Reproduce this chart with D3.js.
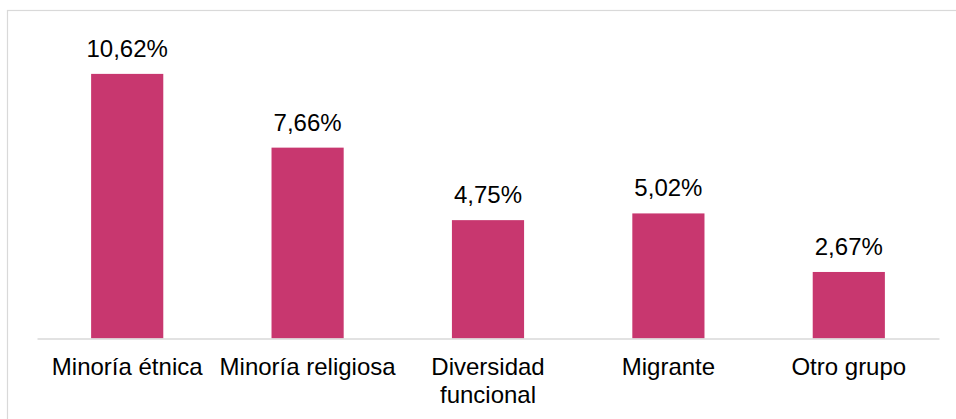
<!DOCTYPE html>
<html>
<head>
<meta charset="utf-8">
<script src="https://cdn.jsdelivr.net/npm/d3@7"></script>
<style>
  body { margin: 0; background: #fff; }
  svg { display: block; font-family: "Liberation Sans", Arial, sans-serif; }
</style>
</head>
<body>
<div id="chart"></div>
<script>
const categories = ["Minoría étnica", "Minoría religiosa", "Diversidad funcional", "Migrante", "Otro grupo"];
const values = [10.62, 7.66, 4.75, 5.02, 2.67];
const yDomain = [0, 12];

const width = 956, height = 419;

const svg = d3.select("#chart")
  .append("svg")
  .attr("width", width)
  .attr("height", height);

// chart area border (cut off at right and bottom in the original)
svg.append("rect")
  .attr("x", 7.5)
  .attr("y", 10.5)
  .attr("width", 1000)
  .attr("height", 500)
  .attr("fill", "none")
  .attr("stroke", "#d9d9d9")
  .attr("stroke-width", 1.2);

const x = d3.scaleBand()
  .domain(categories)
  .range([37, 939])
  .paddingInner(0.6)
  .paddingOuter(0.3);

const y = d3.scaleLinear()
  .domain(yDomain)
  .range([338.5, 39.5]);

const fmt = d3.formatLocale({ decimal: ",", thousands: ".", grouping: [3], currency: ["", "€"] }).format(".2f");

// bars
svg.selectAll("rect.bar")
  .data(values)
  .enter()
  .append("rect")
  .attr("class", "bar")
  .attr("x", (d, i) => x(categories[i]))
  .attr("y", d => y(d))
  .attr("width", x.bandwidth())
  .attr("height", d => y(0) - y(d))
  .attr("fill", "#c8376f");

// value labels
svg.selectAll("text.val")
  .data(values)
  .enter()
  .append("text")
  .attr("class", "val")
  .attr("x", (d, i) => x(categories[i]) + x.bandwidth() / 2)
  .attr("y", d => y(d) - 17)
  .attr("text-anchor", "middle")
  .style("font-size", "24px")
  .style("fill", "#000")
  .text(d => fmt(d) + "%");

// x axis
const axis = svg.append("g")
  .attr("transform", `translate(0,${y(0)})`)
  .call(d3.axisBottom(x).tickSize(0).tickSizeOuter(0));

axis.select(".domain")
  .attr("stroke", "#d9d9d9")
  .attr("stroke-width", 1.5);

axis.selectAll("text")
  .attr("y", 36.5)
  .attr("dy", 0)
  .style("font-size", "24px")
  .style("font-family", "'Liberation Sans', Arial, sans-serif")
  .style("fill", "#000")
  .each(function () {
    const t = d3.select(this);
    if (this.getComputedTextLength() <= x.step()) return;
    const words = t.text().split(" ");
    t.text(null);
    words.forEach((w, i) => {
      t.append("tspan")
        .attr("x", 0)
        .attr("dy", i === 0 ? 0 : 28)
        .text(w);
    });
  });
</script>
</body>
</html>
